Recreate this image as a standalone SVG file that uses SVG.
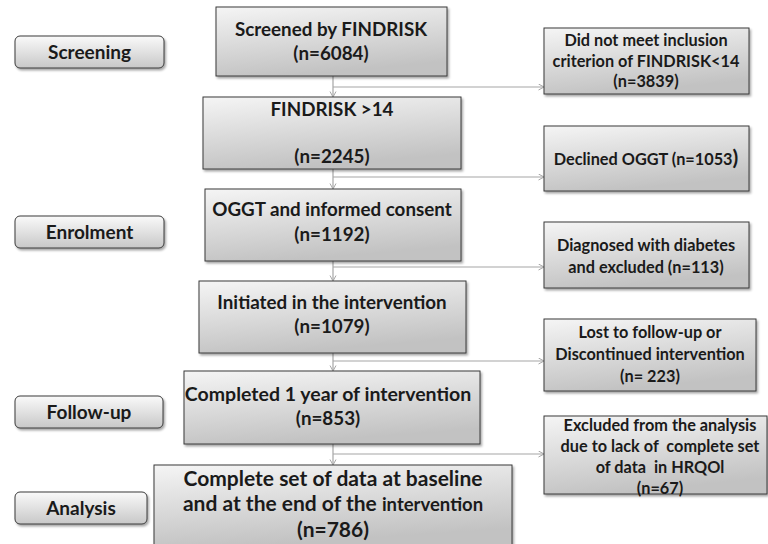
<svg xmlns="http://www.w3.org/2000/svg" width="768" height="544" viewBox="0 0 768 544">
<style>
.box{fill:url(#g);stroke:#3a3a3a;stroke-width:1;filter:url(#sh)}
.ph{fill:url(#g2);stroke:#3a3a3a;stroke-width:1;filter:url(#sh)}
text{font-family:Lato,"Open Sans","Liberation Sans",sans-serif;font-weight:bold;fill:#1a1a1a;text-anchor:middle}
.m{font-size:18.8px}
.r{font-size:16.3px}
.p{font-size:19px}
.c{fill:none;stroke:#a6a6a6;stroke-width:1.2;marker-end:url(#a)}
</style>
<defs>
<linearGradient id="g" x1="0" y1="0" x2="0.3" y2="1">
<stop offset="0" stop-color="#f5f5f5"/>
<stop offset="1" stop-color="#c2c2c2"/>
</linearGradient>
<linearGradient id="g2" x1="0" y1="0" x2="0" y2="1">
<stop offset="0" stop-color="#fafafa"/>
<stop offset="1" stop-color="#c8c8c8"/>
</linearGradient>
<filter id="sh" x="-10%" y="-10%" width="120%" height="130%">
<feDropShadow dx="1.5" dy="2" stdDeviation="1.2" flood-color="#000" flood-opacity="0.35"/>
</filter>
<marker id="a" markerWidth="8" markerHeight="8" refX="6" refY="3.5" orient="auto" markerUnits="userSpaceOnUse">
<path d="M0.5,0.5 L6,3.5 L0.5,6.5" fill="none" stroke="#a6a6a6" stroke-width="1"/>
</marker>
</defs>
<rect width="768" height="544" fill="#fff"/>
<g id="connectors">
<path class="c" d="M333,76 V97"/>
<path class="c" d="M333,87 H544"/>
<path class="c" d="M333,169 V189"/>
<path class="c" d="M333,177 H544"/>
<path class="c" d="M333,261 V281"/>
<path class="c" d="M333,267 H544"/>
<path class="c" d="M333,353 V371"/>
<path class="c" d="M333,361 H544"/>
<path class="c" d="M333,444 V465"/>
<path class="c" d="M333,454 H544"/>
</g>
<g id="phase-screening"><rect class="ph" x="15" y="36" width="149" height="32" rx="5"/><text class="p" x="89.5" y="58.5">Screening</text></g>
<g id="phase-enrolment"><rect class="ph" x="15" y="216" width="149" height="32" rx="5"/><text class="p" x="89.5" y="238.5">Enrolment</text></g>
<g id="phase-followup"><rect class="ph" x="15" y="396" width="148" height="32" rx="5"/><text class="p" x="89" y="418.5">Follow-up</text></g>
<g id="phase-analysis"><rect class="ph" x="15" y="492" width="132" height="32" rx="5"/><text class="p" x="81" y="514.5">Analysis</text></g>
<g id="n1"><rect class="box" x="216" y="7" width="231" height="69"/><text class="m" x="331" y="36" font-size="18.5px">Screened by FINDRISK</text><text class="m" x="331" y="60">(n=6084)</text></g>
<g id="n2"><rect class="box" x="203" y="97" width="258" height="72"/><text class="m" x="332" y="116">FINDRISK &gt;14</text><text class="m" x="332" y="163">(n=2245)</text></g>
<g id="n3"><rect class="box" x="205" y="189" width="256" height="72"/><text class="m" x="332" y="216">OGGT and informed consent</text><text class="m" x="332" y="241">(n=1192)</text></g>
<g id="n4"><rect class="box" x="199" y="281" width="267" height="72"/><text class="m" x="332" y="309">Initiated in the intervention</text><text class="m" x="332" y="333">(n=1079)</text></g>
<g id="n5"><rect class="box" x="184" y="371" width="296" height="73"/><text class="m" x="328" y="401" style="font-size:19.5px">Completed 1 year of intervention</text><text class="m" x="328" y="425">(n=853)</text></g>
<g id="n6"><rect class="box" x="154" y="465" width="358" height="80"/><text x="333" y="486" font-size="21px">Complete set of data at baseline</text><text x="333" y="511" font-size="21px">and at the end of the <tspan font-size="18.5px">intervention</tspan></text><text x="333" y="537" font-size="21px">(n=786)</text></g>
<g id="r1"><rect class="box" x="544" y="28" width="205" height="66"/><text class="r" x="646" y="46">Did not meet inclusion</text><text class="r" x="646" y="67">criterion of FINDRISK&lt;14</text><text class="r" x="646" y="87">(n=3839)</text></g>
<g id="r2"><rect class="box" x="544" y="126" width="205" height="65"/><text class="r" x="646" y="165">Declined OGGT (n=1053<tspan font-size="21px">)</tspan></text></g>
<g id="r3"><rect class="box" x="544" y="222" width="205" height="66"/><text class="r" x="646" y="251">Diagnosed with diabetes</text><text class="r" x="646" y="273">and excluded (n=113)</text></g>
<g id="r4"><rect class="box" x="544" y="319" width="212" height="72"/><text class="r" x="650" y="338">Lost to follow-up or</text><text class="r" x="650" y="360">Discontinued intervention</text><text class="r" x="650" y="382">(n= 223)</text></g>
<g id="r5"><rect class="box" x="544" y="416" width="223" height="78"/><text class="r" x="660" y="431">Excluded from the analysis</text><text class="r" x="660" y="452" xml:space="preserve">due to lack of  complete set</text><text class="r" x="660" y="473" xml:space="preserve">of data  in HRQOl</text><text class="r" x="660" y="494">(n=67)</text></g>
</svg>
